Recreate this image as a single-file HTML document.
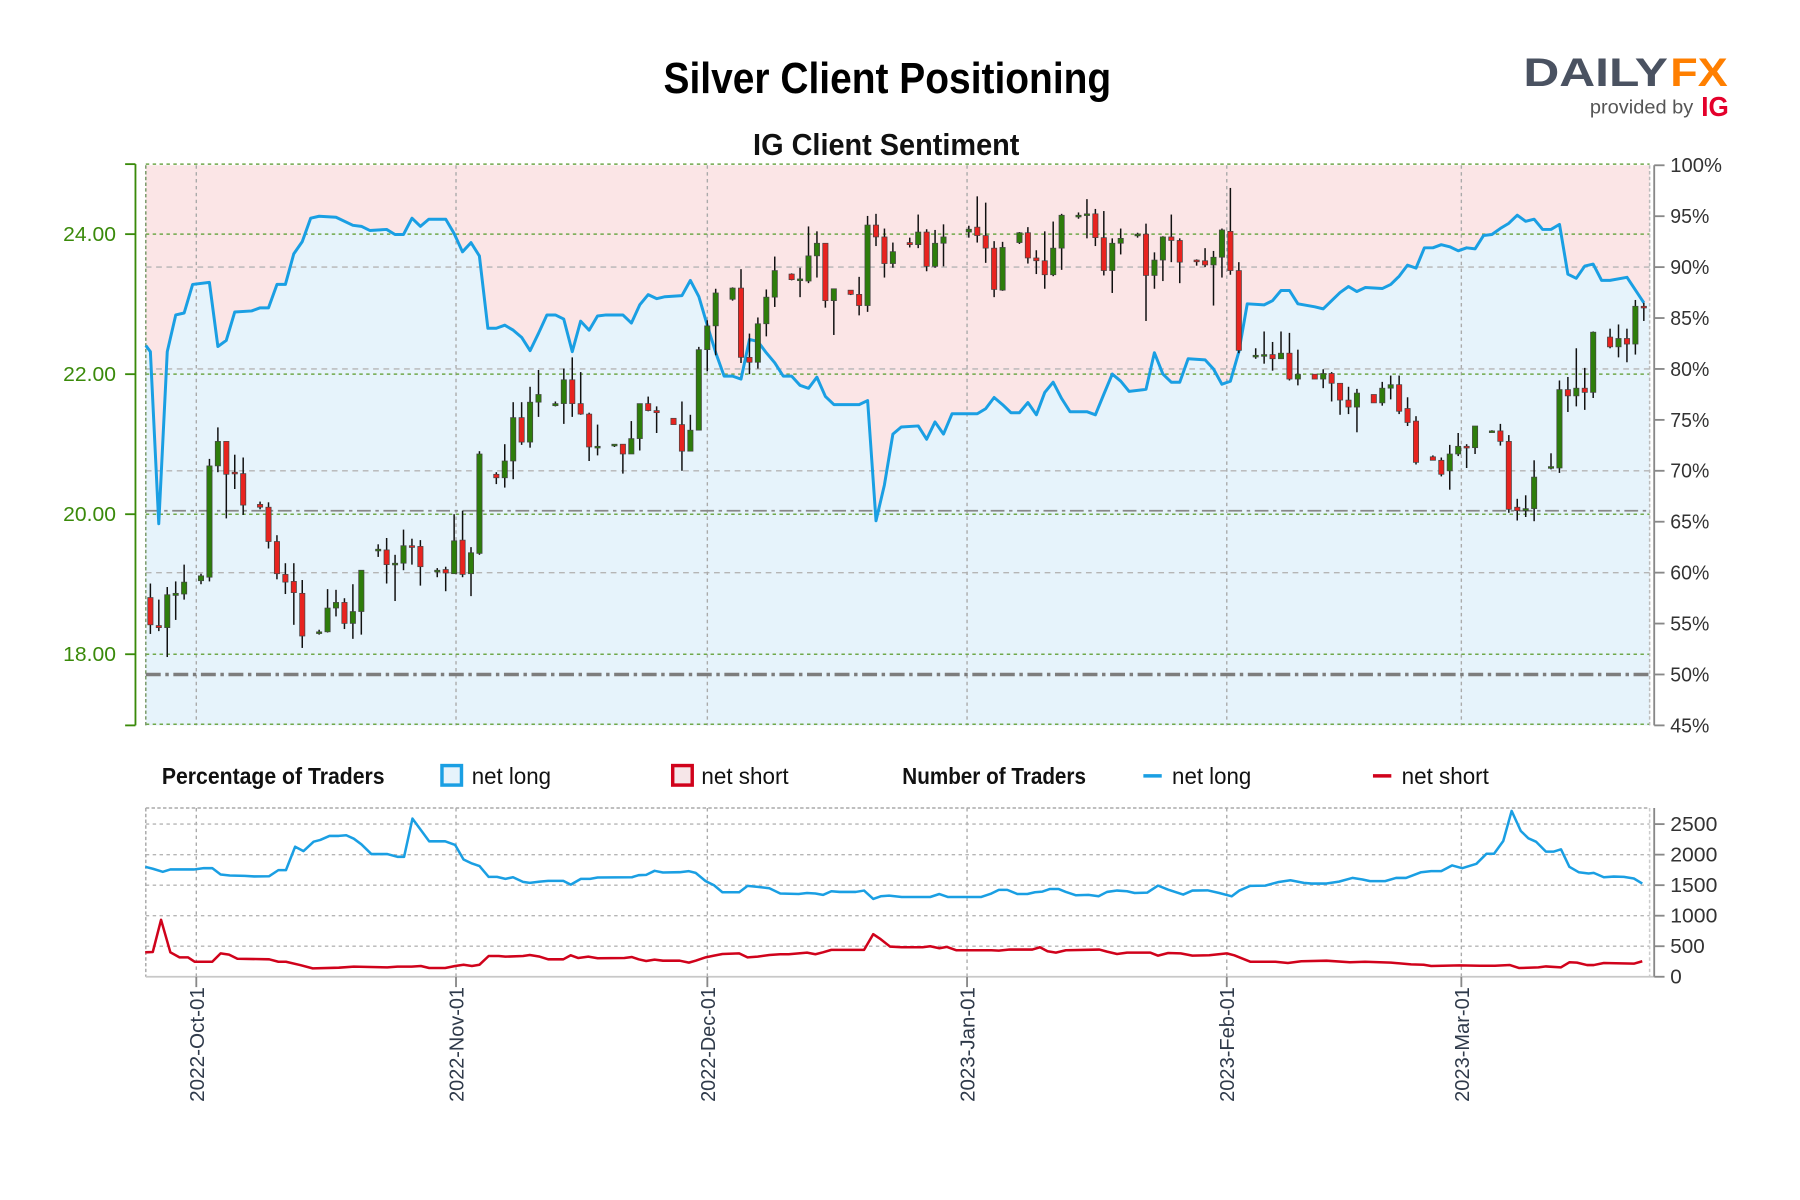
<!DOCTYPE html>
<html><head><meta charset="utf-8">
<style>
html,body{margin:0;padding:0;background:#fff;}
svg{display:block;}
text{font-family:"Liberation Sans Narrow","Liberation Sans",sans-serif;}
</style></head>
<body>
<svg id="chart" width="1800" height="1200" viewBox="0 0 1568 1045.5" preserveAspectRatio="none" xmlns="http://www.w3.org/2000/svg">
  <rect x="0" y="0" width="1568" height="1046" fill="#ffffff"/>
  <text x="773" y="81" text-anchor="middle" font-size="38" font-weight="bold" fill="#000" textLength="390" lengthAdjust="spacingAndGlyphs">Silver Client Positioning</text>
  <text x="772" y="135" text-anchor="middle" font-size="27" font-weight="bold" fill="#111" textLength="232" lengthAdjust="spacingAndGlyphs">IG Client Sentiment</text>
  <g>
    <text x="1327" y="75" font-size="35" font-weight="bold" fill="#4a5261" font-family="Liberation Sans, sans-serif" textLength="126" lengthAdjust="spacingAndGlyphs">DAILY</text>
    <text x="1455" y="75" font-size="35" font-weight="bold" fill="#ff7f00" font-family="Liberation Sans, sans-serif" textLength="50" lengthAdjust="spacingAndGlyphs">FX</text>
    <text x="1385" y="99" font-size="17" fill="#555" font-family="Liberation Sans, sans-serif" textLength="90" lengthAdjust="spacingAndGlyphs">provided by</text>
    <text x="1482" y="101" font-size="24" font-weight="bold" fill="#e4002b" font-family="Liberation Sans, sans-serif" textLength="24" lengthAdjust="spacingAndGlyphs">IG</text>
  </g>
  <g id="topPanel"></g>
  <g id="legend">
    <text x="141" y="683" font-size="20" font-weight="bold" fill="#111" textLength="194" lengthAdjust="spacingAndGlyphs">Percentage of Traders</text>
    <rect x="385" y="667" width="17" height="17" fill="#e6f3fb" stroke="#1a9fe3" stroke-width="3"/>
    <text x="411" y="683" font-size="20" fill="#111" textLength="69" lengthAdjust="spacingAndGlyphs">net long</text>
    <rect x="586" y="667" width="17" height="17" fill="#f6e6e8" stroke="#d0021b" stroke-width="3"/>
    <text x="611" y="683" font-size="20" fill="#111" textLength="76" lengthAdjust="spacingAndGlyphs">net short</text>
    <text x="786" y="683" font-size="20" font-weight="bold" fill="#111" textLength="160" lengthAdjust="spacingAndGlyphs">Number of Traders</text>
    <line x1="996" y1="676" x2="1012" y2="676" stroke="#1a9fe3" stroke-width="3"/>
    <text x="1021" y="683" font-size="20" fill="#111" textLength="69" lengthAdjust="spacingAndGlyphs">net long</text>
    <line x1="1196" y1="676" x2="1212" y2="676" stroke="#d0021b" stroke-width="3"/>
    <text x="1221" y="683" font-size="20" fill="#111" textLength="76" lengthAdjust="spacingAndGlyphs">net short</text>
  </g>
  <g id="bottomPanel"></g>
</svg>
<script>
// ---- data ----
const candleDays = [-5,-4,-3,-2,-1,1,2,3,4,5,6,8,9,10,11,12,13,15,16,17,18,19,20,22,23,24,25,26,27,29,30,31,32,33,34,36,37,38,39,40,41,43,44,45,46,47,48,50,51,52,53,54,55,57,58,59,60,61,62,64,65,66,67,68,69,71,72,73,74,75,76,78,79,80,81,82,83,85,86,87,88,89,92,93,94,95,96,98,99,100,101,102,103,105,106,107,108,109,110,112,113,114,115,116,117,119,120,121,122,123,124,126,127,128,129,130,131,133,134,135,136,137,138,140,141,142,143,144,145,147,148,149,150,151,152,154,155,156,157,158,159,161,162,163,164,165,166,168,169,170,171,172];
const opens = [18.81,18.41,18.38,18.84,18.86,19.05,19.1,20.69,21.04,20.6,20.58,20.14,20.1,19.61,19.14,19.04,18.87,18.3,18.32,18.66,18.74,18.44,18.61,19.49,19.49,19.29,19.3,19.55,19.54,19.2,19.21,19.15,19.63,19.15,19.44,20.57,20.52,20.76,21.38,21.03,21.6,21.55,21.58,21.92,21.58,21.43,20.96,20.99,21.0,20.86,21.08,21.58,21.48,21.37,21.28,20.9,21.2,22.35,22.69,23.07,23.23,22.24,22.17,22.72,23.1,23.43,23.35,23.33,23.69,23.87,23.05,23.2,23.14,22.98,24.13,23.96,23.58,23.88,23.85,24.03,23.54,23.87,24.03,24.1,23.98,23.8,23.2,23.88,24.02,23.66,23.62,23.42,23.8,24.27,24.29,24.29,23.95,23.48,23.87,24.0,24.0,23.41,23.63,23.96,23.91,23.63,23.62,23.56,23.67,24.04,23.48,22.27,22.28,22.28,22.22,22.3,21.93,22.0,21.93,22.01,21.87,21.63,21.53,21.71,21.59,21.8,21.85,21.51,21.33,20.82,20.77,20.62,20.86,20.97,20.95,21.19,21.19,21.04,20.1,20.05,20.08,20.68,20.66,21.78,21.69,21.8,21.74,22.53,22.39,22.51,22.43,22.97];
const highs = [19.01,18.78,18.96,19.04,19.28,19.15,20.79,21.24,21.04,20.85,20.81,20.18,20.17,19.7,19.3,19.3,19.06,18.35,18.93,18.92,18.8,19.0,19.2,19.57,19.66,19.42,19.78,19.65,19.63,19.23,19.25,20.0,20.05,19.53,20.9,20.6,21.0,21.6,21.6,21.82,22.06,21.61,22.08,22.24,22.03,21.45,21.28,21.0,21.0,21.33,21.58,21.68,21.54,21.37,21.61,21.42,22.39,22.77,23.22,23.24,23.5,22.58,22.81,23.21,23.68,23.44,23.52,24.11,24.04,23.87,23.22,23.2,23.39,24.26,24.29,24.08,23.88,23.95,24.28,24.07,24.06,24.14,24.12,24.54,24.45,23.9,23.89,24.03,24.1,23.77,24.04,24.18,24.29,24.31,24.5,24.36,24.33,23.94,24.08,24.02,24.15,23.74,23.97,24.28,23.94,23.64,23.8,23.76,24.08,24.66,23.6,22.37,22.61,22.46,22.61,22.59,22.35,22.0,22.07,22.03,21.87,21.82,21.79,21.71,21.89,21.98,21.98,21.67,21.4,20.84,20.81,20.99,21.16,21.0,21.26,21.2,21.29,21.13,20.22,20.27,20.77,20.87,21.91,21.96,22.37,22.09,22.61,22.65,22.71,22.65,23.06,23.02];
const lows = [18.29,18.33,17.96,18.49,18.78,19.0,19.04,20.6,19.94,20.36,19.99,20.07,19.51,19.07,18.86,18.42,18.09,18.28,18.31,18.54,18.36,18.22,18.28,19.39,19.01,18.76,19.2,19.28,18.98,19.1,18.9,19.15,19.1,18.83,19.42,20.43,20.38,20.5,20.99,20.95,21.39,21.54,21.29,21.39,21.42,20.76,20.84,20.96,20.58,20.86,20.91,21.47,21.16,21.28,20.62,20.9,21.2,22.04,22.27,23.05,22.16,22.0,22.08,22.54,22.96,23.34,23.1,23.3,23.38,22.95,22.56,23.13,22.84,22.89,23.83,23.38,23.52,23.81,23.8,23.47,23.52,23.54,23.95,23.88,23.59,23.1,23.19,23.86,23.58,23.43,23.22,23.4,23.49,24.22,23.94,23.83,23.41,23.16,23.71,23.95,22.76,23.22,23.33,23.6,23.3,23.55,23.53,22.98,23.38,23.42,22.3,22.22,22.15,22.05,22.22,21.91,21.84,21.93,21.8,21.61,21.42,21.43,21.17,21.59,21.55,21.64,21.43,21.26,20.71,20.77,20.54,20.35,20.83,20.66,20.86,21.18,20.98,20.02,19.91,19.96,19.9,20.64,20.59,21.46,21.54,21.49,21.66,22.37,22.24,22.17,22.28,22.76];
const closes = [18.42,18.38,18.85,18.87,19.03,19.12,20.69,21.04,20.57,20.58,20.13,20.1,19.61,19.15,19.03,18.88,18.26,18.32,18.66,18.74,18.44,18.61,19.2,19.5,19.28,19.3,19.55,19.54,19.25,19.2,19.16,19.62,19.14,19.45,20.86,20.52,20.76,21.38,21.03,21.6,21.71,21.58,21.92,21.58,21.43,20.96,20.97,21.0,20.86,21.08,21.58,21.48,21.45,21.28,20.9,21.2,22.35,22.69,23.16,23.23,22.24,22.17,22.72,23.1,23.48,23.35,23.36,23.69,23.87,23.05,23.22,23.14,22.98,24.13,23.96,23.58,23.75,23.85,24.03,23.54,23.87,23.96,24.07,23.98,23.8,23.21,23.81,24.02,23.66,23.62,23.42,23.8,24.27,24.27,24.29,23.95,23.48,23.87,23.94,24.0,23.41,23.63,23.96,23.91,23.6,23.62,23.56,23.67,24.06,23.48,22.34,22.27,22.28,22.22,22.3,21.93,22.0,21.93,22.01,21.87,21.63,21.53,21.73,21.59,21.8,21.85,21.47,21.31,20.74,20.77,20.57,20.86,20.97,20.96,21.26,21.19,21.04,20.07,20.05,20.08,20.53,20.68,21.78,21.69,21.8,21.74,22.6,22.39,22.51,22.43,22.97,22.96];

const sentimentDays = [-6,-5,-4,-3,-2,-1,0,2,3,4,5,7,8,9,10,11,12,13,14,15,17,19,20,21,23,24,25,26,27,28,30,31,32,33,34,35,36,37,38,39,40,41,42,43,44,45,46,47,48,49,51,52,53,54,55,56,58,59,60,61,62,63,64,65,66,67,68,69,70,71,72,73,74,75,76,77,79,80,81,82,83,84,86,87,88,89,90,93,94,95,96,97,98,99,100,101,102,103,104,106,107,108,109,110,111,113,114,115,116,117,118,120,121,122,123,124,125,127,128,129,130,131,133,134,135,136,137,138,139,141,142,143,144,145,146,147,148,149,150,151,152,153,154,155,156,157,158,159,160,161,162,163,164,165,166,167,168,170,172];
const netLongPct = [82.3,81.7,64.8,81.7,85.3,85.5,88.3,88.5,82.2,82.8,85.6,85.7,86.0,86.0,88.3,88.3,91.3,92.5,94.8,95.0,94.9,94.1,94.0,93.6,93.7,93.2,93.2,94.8,94.0,94.7,94.7,93.3,91.5,92.4,91.1,84.0,84.0,84.3,83.8,83.1,81.8,83.5,85.3,85.3,84.9,81.7,84.7,83.8,85.2,85.3,85.3,84.5,86.3,87.3,86.9,87.1,87.2,88.7,87.1,84.3,81.6,79.3,79.3,79.0,82.9,82.7,81.6,80.6,79.3,79.3,78.4,78.1,79.2,77.3,76.5,76.5,76.5,76.9,65.1,68.6,73.6,74.3,74.4,73.1,74.8,73.6,75.6,75.6,76.1,77.2,76.5,75.7,75.7,76.7,75.5,77.7,78.7,77.1,75.8,75.8,75.5,77.5,79.5,78.8,77.8,78.0,81.6,79.5,78.7,78.7,81.0,80.9,80.0,78.5,78.8,81.7,86.4,86.3,86.7,87.7,87.7,86.4,86.1,85.9,86.7,87.5,88.1,87.6,88.0,87.9,88.3,89.1,90.2,89.9,91.9,91.9,92.2,92.0,91.6,91.9,91.8,93.1,93.2,93.8,94.3,95.1,94.5,94.7,93.7,93.7,94.2,89.3,88.9,90.1,90.3,88.7,88.7,89.0,86.5];

const longCountDays = [-6.1,-5.2,-4.0,-3.1,-0.3,0.9,1.9,2.9,4.0,5.8,6.9,8.7,9.8,10.7,11.8,12.8,14.0,14.8,15.9,17.0,17.9,18.8,19.7,20.9,22.8,24.0,24.8,25.8,26.8,27.8,29.7,30.9,31.9,32.9,33.8,34.9,35.9,36.9,37.8,39.0,39.8,41.0,42.0,43.8,44.7,45.9,47.0,47.9,52.0,52.8,53.7,54.7,55.7,57.7,58.8,59.6,60.8,61.8,62.8,64.8,65.8,67.0,68.4,69.7,71.9,72.9,73.9,74.8,75.8,76.8,78.7,79.7,80.8,81.7,82.7,84.2,87.6,88.7,89.7,93.7,94.9,95.8,96.8,98.0,99.2,100.1,101.0,101.9,102.9,103.8,105.0,106.5,107.7,108.7,109.9,111.1,112.0,113.5,114.8,116.0,117.8,118.9,120.7,122.1,123.6,124.5,125.8,127.6,129.1,130.6,132.2,133.1,134.9,136.4,138.0,139.2,140.1,141.9,143.2,144.4,146.2,147.4,148.6,149.9,151.1,152.8,154.0,154.9,156.0,157.0,158.1,159.0,159.9,161.1,162.0,162.9,163.9,165.0,166.2,166.8,168.0,169.2,170.4,171.6,172.6];
const longCounts = [1800,1768,1718,1757,1757,1779,1779,1675,1658,1652,1642,1647,1746,1746,2130,2059,2212,2240,2306,2306,2317,2262,2169,2009,2009,1965,1965,2591,2405,2218,2218,2158,1921,1856,1812,1636,1636,1603,1630,1554,1537,1559,1570,1570,1510,1603,1603,1625,1630,1663,1669,1735,1707,1713,1729,1702,1565,1499,1383,1383,1488,1471,1449,1362,1356,1372,1362,1340,1400,1389,1389,1411,1274,1318,1329,1307,1307,1356,1307,1307,1362,1422,1422,1356,1356,1383,1394,1438,1438,1389,1334,1340,1318,1389,1411,1400,1372,1378,1493,1427,1345,1411,1416,1372,1318,1411,1488,1493,1548,1581,1537,1526,1526,1559,1619,1592,1565,1565,1619,1619,1713,1729,1729,1823,1779,1850,2015,2015,2223,2717,2388,2267,2212,2048,2048,2086,1801,1713,1691,1702,1630,1641,1636,1609,1526];
const shortCountDays = [-6.1,-5.2,-4.2,-3.1,-2.0,-1.0,-0.2,1.9,2.9,3.9,4.9,8.7,9.8,10.7,12.4,13.9,17.0,18.8,22.8,24.0,25.7,26.8,27.8,29.7,30.9,31.9,32.9,33.8,34.9,36.1,36.9,39.0,39.8,41.0,42.0,43.8,44.7,45.6,46.8,47.9,51.1,52.0,52.8,53.7,54.7,55.7,57.7,58.8,59.6,60.8,61.8,62.8,64.8,65.8,67.0,68.4,69.7,70.7,71.9,72.9,73.9,74.8,75.8,78.7,79.7,80.8,81.7,82.8,84.2,86.7,87.6,88.7,89.6,90.7,94.9,95.8,97.1,99.8,100.7,101.6,102.6,103.8,107.8,108.7,109.9,111.1,113.9,114.8,116.0,117.5,118.9,120.9,123.0,123.9,125.8,128.8,130.3,131.9,134.9,137.7,139.5,142.6,145.0,146.5,147.4,150.8,153.2,155.0,156.8,157.9,160.2,161.1,162.9,163.9,164.8,166.0,166.8,168.0,171.6,172.6];
const shortCounts = [401,406,933,401,318,318,247,247,384,362,296,285,247,247,192,137,148,165,154,165,165,176,143,143,176,198,176,198,340,340,329,340,357,329,285,285,351,307,329,302,307,324,285,258,280,264,264,231,264,318,346,373,384,318,329,357,368,368,384,395,368,401,439,439,439,697,615,494,483,483,500,467,489,434,434,428,445,445,483,417,395,434,445,412,373,395,395,346,390,384,346,351,384,351,247,247,225,253,264,236,247,231,203,198,176,187,181,181,192,143,154,170,154,236,231,192,192,225,214,253];

const priceTicks = [24, 22, 20, 18];
const priceTickLabels = ["24.00","22.00","20.00","18.00"];
const pctTicks = [100,95,90,85,80,75,70,65,60,55,50,45];
const countTicks = [2500,2000,1500,1000,500,0];
const monthDays = [0,31,61,92,123,151];
const monthLabels = ["2022-Oct-01","2022-Nov-01","2022-Dec-01","2023-Jan-01","2023-Feb-01","2023-Mar-01"];
const lastPriceLevel = 20.05;

// ---- geometry ----
const L = 127, R = 1437, T = 144, B = 632;
const BT = 704, BB = 851;
const xDay = t => 171 + t * 7.298;
const xC = d => 131 + (d + 5) * 7.35;
const yPrice = p => 448 - (p - 20) * 61;
const yPct = p => B - (p - 45) * (B - T) / 55;
const yCount = v => BB - v * (133 / 2500);
const NS = "http://www.w3.org/2000/svg";
function mk(tag, attrs, parent) {
  const el = document.createElementNS(NS, tag);
  for (const k in attrs) el.setAttribute(k, attrs[k]);
  parent.appendChild(el);
  return el;
}
const topG = document.getElementById('topPanel');
const botG = document.getElementById('bottomPanel');
const nS = Math.min(sentimentDays.length, netLongPct.length);
const nC = Math.min(candleDays.length, opens.length, highs.length, lows.length, closes.length);
const nL = Math.min(longCountDays.length, longCounts.length);
const nSh = Math.min(shortCountDays.length, shortCounts.length);

let el = mk('rect', {x:L, y:T, width:R-L, height:B-T, fill:'#fbe5e6'}, topG);


const pts = [];
for (let i = 0; i < nS; i++) pts.push(Math.max(L, xC(sentimentDays[i])).toFixed(1)+','+yPct(netLongPct[i]).toFixed(1));
const lastY = yPct(netLongPct[nS-1]);
el = mk('path', {d:'M'+L+','+B+' L'+L+','+yPct(netLongPct[0]).toFixed(1)+' L'+pts.join(' L')+' L'+R+','+lastY.toFixed(1)+' L'+R+','+B+' Z', fill:'#e6f3fb'}, topG);



[90,80,70,60].forEach(p=>{
  const g = mk('line', {x1:L, x2:R, y1:yPct(p), y2:yPct(p), stroke:'#b5b5b5', 'stroke-width':1.2, 'stroke-dasharray':'5,4'}, topG);
  
  
});
monthDays.forEach(d=>{
  const g = mk('line', {x1:xDay(d), x2:xDay(d), y1:T, y2:B, stroke:'#aaa', 'stroke-width':1.2, 'stroke-dasharray':'3,3'}, topG);
  
  
  const g2 = mk('line', {x1:xDay(d), x2:xDay(d), y1:BT, y2:BB, stroke:'#aaa', 'stroke-width':1.2, 'stroke-dasharray':'3,3'}, botG);
  
  
});
priceTicks.concat([25,17]).forEach(p=>{
  const g = mk('line', {x1:L, x2:R, y1:yPrice(p), y2:yPrice(p), stroke:'#6fa84a', 'stroke-width':1.3, 'stroke-dasharray':'3,3'}, topG);
  
  
});
el = mk('line', {x1:L, x2:L, y1:T, y2:B, stroke:'#7a9a6a', 'stroke-width':1.3, 'stroke-dasharray':'3,2'}, topG);


el = mk('line', {x1:R, x2:R, y1:T, y2:B, stroke:'#bbb', 'stroke-width':1.3, 'stroke-dasharray':'3,2'}, topG);


el = mk('line', {x1:L, x2:R, y1:yPct(50), y2:yPct(50), stroke:'#7d7d7d', 'stroke-width':3, 'stroke-dasharray':'13,4,3,4'}, topG);


el = mk('line', {x1:L, x2:R, y1:yPrice(lastPriceLevel), y2:yPrice(lastPriceLevel), stroke:'#888', 'stroke-width':1.5, 'stroke-dasharray':'12,4,3,4'}, topG);



el = mk('polyline', {points:pts.join(' '), fill:'none', stroke:'#1a9fe3', 'stroke-width':2.6, 'stroke-linejoin':'round'}, topG);



for (let i = 0; i < nC; i++) {
  const x = xC(candleDays[i]), o = opens[i], c = closes[i];
  const up = c >= o;
  const g = mk('g', {}, topG);
  
  
  mk('line', {x1:x, x2:x, y1:yPrice(highs[i]), y2:yPrice(lows[i]), stroke:'#111', 'stroke-width':1.3}, g);
  const y1 = yPrice(Math.max(o,c)), y2 = yPrice(Math.min(o,c));
  mk('rect', {x:x-2.3, y:y1, width:4.6, height:Math.max(y2-y1,1.5), fill: up ? '#2e7d0b' : '#e8231f', stroke:'#444', 'stroke-width':0.6}, g);
}

el = mk('line', {x1:118, x2:118, y1:T-1, y2:B, stroke:'#3a8a0a', 'stroke-width':1.6}, topG);


mk('line', {x1:109, x2:118, y1:T-1, y2:T-1, stroke:'#3a8a0a', 'stroke-width':1.6}, topG);
mk('line', {x1:109, x2:118, y1:B, y2:B, stroke:'#3a8a0a', 'stroke-width':1.6}, topG);
priceTicks.forEach((p,i)=>{
  mk('line', {x1:109, x2:118, y1:yPrice(p), y2:yPrice(p), stroke:'#3a8a0a', 'stroke-width':1.6}, topG);
  const t = mk('text', {x:101, y:yPrice(p)+6, 'text-anchor':'end', 'font-size':18, fill:'#3a8a0a', textLength:46, lengthAdjust:'spacingAndGlyphs'}, topG);
  t.textContent = priceTickLabels[i];
  
  
});
el = mk('line', {x1:1441, x2:1441, y1:T, y2:B, stroke:'#888', 'stroke-width':1.6}, topG);


pctTicks.forEach(p=>{
  mk('line', {x1:1441, x2:1450, y1:yPct(p), y2:yPct(p), stroke:'#888', 'stroke-width':1.6}, topG);
  const t = mk('text', {x:1455, y:yPct(p)+6, 'font-size':18, fill:'#333', textLength: p===100?45:34, lengthAdjust:'spacingAndGlyphs'}, topG);
  t.textContent = p + '%';
  
  
});

countTicks.forEach(v=>{
  if (v > 0) {
    const g = mk('line', {x1:L, x2:R, y1:yCount(v), y2:yCount(v), stroke:'#b5b5b5', 'stroke-width':1.2, 'stroke-dasharray':'3,3'}, botG);
    
    
  }
  mk('line', {x1:1441, x2:1450, y1:yCount(v), y2:yCount(v), stroke:'#888', 'stroke-width':1.6}, botG);
  const t = mk('text', {x:1455, y:yCount(v)+6, 'font-size':18, fill:'#333'}, botG);
  t.textContent = v;
  if (v >= 1000) { t.setAttribute('textLength', 41); t.setAttribute('lengthAdjust', 'spacingAndGlyphs'); }
  
  
});
mk('line', {x1:L, x2:R, y1:BT, y2:BT, stroke:'#aaa', 'stroke-width':1.3, 'stroke-dasharray':'3,2'}, botG);
mk('line', {x1:L, x2:L, y1:BT, y2:BB, stroke:'#aaa', 'stroke-width':1.3, 'stroke-dasharray':'3,2'}, botG);
mk('line', {x1:R, x2:R, y1:BT, y2:BB, stroke:'#ccc', 'stroke-width':1.3, 'stroke-dasharray':'3,2'}, botG);
mk('line', {x1:L, x2:1441, y1:BB, y2:BB, stroke:'#c8c8c8', 'stroke-width':1.5}, botG);
el = mk('line', {x1:1441, x2:1441, y1:BT, y2:BB, stroke:'#888', 'stroke-width':1.6}, botG);


const lp = [];
for (let i = 0; i < nL; i++) lp.push(xDay(longCountDays[i]).toFixed(1)+','+yCount(longCounts[i]).toFixed(1));
el = mk('polyline', {points:lp.join(' '), fill:'none', stroke:'#1a9fe3', 'stroke-width':2.2, 'stroke-linejoin':'round'}, botG);


const sp = [];
for (let i = 0; i < nSh; i++) sp.push(xDay(shortCountDays[i]).toFixed(1)+','+yCount(shortCounts[i]).toFixed(1));
el = mk('polyline', {points:sp.join(' '), fill:'none', stroke:'#d0021b', 'stroke-width':2.2, 'stroke-linejoin':'round'}, botG);



monthDays.forEach((d,i)=>{
  const x = xDay(d);
  mk('line', {x1:x, x2:x, y1:BB, y2:BB+9, stroke:'#888', 'stroke-width':1.6}, botG);
  const t = mk('text', {x:0, y:0, 'text-anchor':'end', 'font-size':18, fill:'#2f3a4a', textLength:100, lengthAdjust:'spacingAndGlyphs', transform:'translate('+(x+6.5)+',860) rotate(-90)'}, botG);
  t.textContent = monthLabels[i];
  
  
});
</script>
</body></html>
